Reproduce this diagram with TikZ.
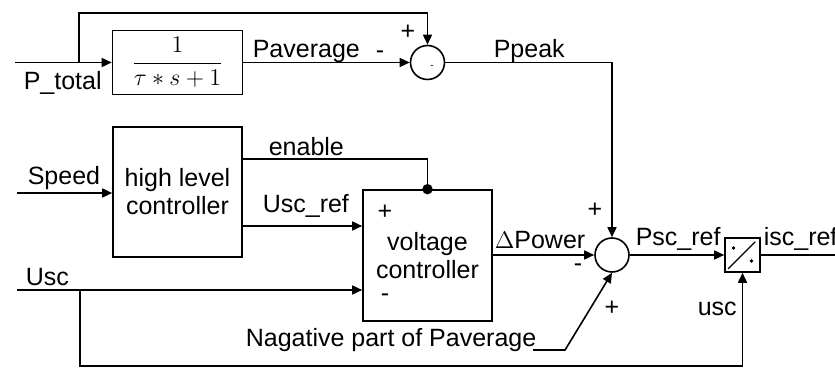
\documentclass[tikz,border=0pt]{standalone}
\usepackage{amsmath}
\usepackage{fontspec}
\setmainfont{Liberation Sans}
\usetikzlibrary{arrows.meta}

\begin{document}
\begin{tikzpicture}[
    x=0.5pt, y=-0.5pt,
    line width=0.8pt,
    >={Triangle[length=5pt,width=4.5pt]},
    every node/.style={font=\fontsize{12.5}{14}\selectfont},
    blk/.style={draw, inner sep=0pt, align=center},
    sumj/.style={draw, circle, inner sep=0pt, minimum size=17pt},
    lbl/.style={inner sep=0pt, anchor=base west},
    sgn/.style={inner sep=0pt}
]
\useasboundingbox (0,0) rectangle (835,368);

\node[blk, minimum width=65pt, minimum height=32pt] (filt) at (177.5,62.5) {\large$\dfrac{1}{\tau\ast s+1}$};
\node[blk, minimum width=64.5pt, minimum height=65pt] (hlc) at (177.5,192) {high level\\controller};
\node[blk, minimum width=64.5pt, minimum height=65.5pt] (vc) at (427.5,255.5) {voltage\\controller};
\node[sumj] (sum1) at (427.5,62.5) {};
\node[sumj] (sum2) at (612,255) {};
\node[blk, minimum width=17.5pt, minimum height=17pt] (div) at (742.5,255) {};

\coordinate (ptin) at (15,62.5);
\coordinate (ptbr) at (79,62.5);
\coordinate (spin) at (17,193);
\coordinate (enrow) at (0,159);
\coordinate (refrow) at (0,226);
\coordinate (usin) at (17,290);
\coordinate (usbr) at (80,290);
\coordinate (iscout) at (835,255);

\draw[->] (ptin) -- (filt.west);
\draw[->] (ptbr) -- ++(0,-49.5) -| (sum1.north);
\draw[->] (filt.east) -- (sum1.west);
\draw[->] (sum1.east) -| (sum2.north);
\draw[->] (spin) -- (hlc.west |- spin);
\draw (hlc.east |- enrow) -| (vc.north);
\fill (vc.north) circle[radius=2.6pt];
\draw[->] (hlc.east |- refrow) -- (vc.west |- refrow);
\draw[->] (usin) -- (vc.west |- usin);
\draw[->] (usbr) -- ++(0,76) -| (div.south);
\draw[->] (vc.east |- sum2) -- (sum2.west);
\draw[->] (sum2.east) -- (div.west);
\draw (div.east) -- (iscout);

\draw[line width=0.6pt] (div.south west) ++(4,-4) -- ++(27,-27);
\fill (div.center) ++(-9,-7) circle[radius=0.9pt];
\fill (div.center) ++(9,6) circle[radius=0.9pt];

\node[lbl] (ptlbl) at (23,90) {P\_total};
\node[lbl] (pavlbl) at (252,58) {Paverage};
\node[sgn] (s1m) at (380,55) {-};
\node[sgn] (s1p) at (408,32) {+};
\node[sgn, font=\tiny] (s1in) at (432,67) {-};
\node[lbl] (pplbl) at (493,58) {Ppeak};
\node[lbl] (splbl) at (27,185) {Speed};
\node[lbl] (enlbl) at (268,156) {enable};
\node[lbl] (reflbl) at (262,213) {Usc\_ref};
\node[lbl] (uslbl) at (25,286) {Usc};
\node[sgn] (vcp) at (385,212) {+};
\node[sgn] (vcm) at (385,298) {-};
\node[lbl] (dplbl) at (494,249) {$\Delta$Power};
\node[sgn] (s2m) at (578,268) {-};
\node[sgn] (s2p) at (595,210) {+};
\node[sgn] (s2q) at (612,308) {+};
\node[lbl] (psclbl) at (635,246) {Psc\_ref};
\node[lbl] (isclbl) at (763,246) {isc\_ref};
\node[lbl] (usclbl) at (697,316) {usc};
\node[lbl] (neglbl) at (245,347) {Nagative part of Paverage};

\draw[->] (neglbl.base east) ++(-4,3) -- ++(32,0) -- (sum2.south);
\end{tikzpicture}
\end{document}
